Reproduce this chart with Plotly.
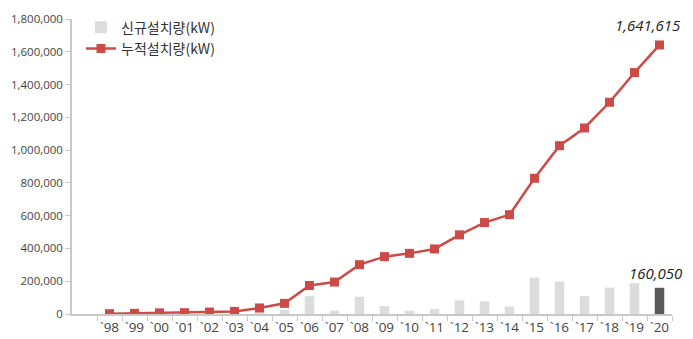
import plotly.graph_objects as go

# Annual new installations and cumulative installed capacity (kW)
years = ["`98", "`99", "`00", "`01", "`02", "`03", "`04", "`05", "`06", "`07", "`08", "`09",
         "`10", "`11", "`12", "`13", "`14", "`15", "`16", "`17", "`18", "`19", "`20"]
new_kw = [2000, 2000, 3000, 1000, 4000, 4000, 21000, 25000, 109000, 21000, 105000, 48000,
          20000, 30000, 83000, 77000, 45000, 222000, 198000, 109000, 161000, 188000, 160050]
cum_kw = [2000, 4000, 7000, 8000, 12000, 16000, 37000, 65000, 174000, 195000, 301000, 350000,
          370000, 397000, 483000, 558000, 606000, 828000, 1027000, 1135000, 1292000, 1473000, 1641615]
y_ticks = [0, 200000, 400000, 600000, 800000, 1000000, 1200000, 1400000, 1600000, 1800000]

LIGHT = "#dcdcdc"
DARK = "#595959"
RED = "#cc4b47"
TXT = "#444444"

bar_colors = [LIGHT] * (len(years) - 1) + [DARK]

fig = go.Figure()
fig.add_trace(go.Bar(
    x=years, y=new_kw, name="신규설치량(kW)",
    marker=dict(color=bar_colors, line=dict(width=0)),
    width=0.38,
))
fig.add_trace(go.Scatter(
    x=years, y=cum_kw, name="누적설치량(kW)", mode="lines+markers",
    line=dict(color=RED, width=2.5),
    marker=dict(symbol="square", size=9, color=RED),
))

# value callouts for the latest year
fig.add_annotation(x=years[-1], y=cum_kw[-1], text=f"{cum_kw[-1]:,}", showarrow=False,
                   yshift=20, xshift=-12,
                   font=dict(family="Open Sans", size=15, color="#222222", style="italic"))
fig.add_annotation(x=years[-1], y=new_kw[-1], text=f"{new_kw[-1]:,}", showarrow=False,
                   yshift=15, xshift=-4,
                   font=dict(family="Open Sans", size=15, color="#222222", style="italic"))

fig.update_layout(
    width=693, height=339,
    margin=dict(l=72, r=21, t=16, b=25),
    plot_bgcolor="white", paper_bgcolor="white",
    showlegend=True,
    legend=dict(x=0.015, y=1.025, xanchor="left", yanchor="top",
                bgcolor="rgba(0,0,0,0)", tracegroupgap=0, itemwidth=30,
                font=dict(family="Noto Sans CJK KR", size=14, color="#333333")),
    bargap=0.6,
)
fig.update_xaxes(
    type="category", range=[-1.5, 22.5],
    showline=True, linecolor="#c8c8c8", linewidth=1.5,
    ticks="outside", tickson="boundaries", ticklen=5, tickcolor="#c8c8c8",
    showgrid=False, zeroline=False, tickangle=0, automargin=False,
    tickfont=dict(family="Open Sans", size=13.5, color=TXT),
)
fig.update_yaxes(
    range=[0, 1800000], tickvals=y_ticks, ticktext=[f"{v:,}" for v in y_ticks],
    showline=True, linecolor="#c8c8c8", linewidth=1.5,
    ticks="outside", ticklen=5, tickcolor="#c8c8c8",
    showgrid=False, zeroline=False, automargin=False,
    tickfont=dict(family="Open Sans", size=11.5, color=TXT),
)

fig.write_html("out.html")
